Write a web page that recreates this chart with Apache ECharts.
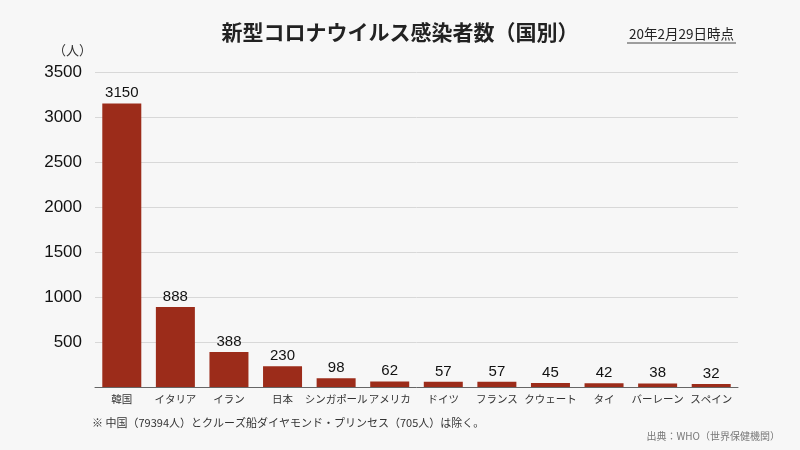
<!DOCTYPE html>
<html><head><meta charset="utf-8">
<script src="https://cdn.jsdelivr.net/npm/echarts@6/dist/echarts.min.js"></script>
<style>html,body{margin:0;padding:0;background:#f7f7f7;}#c{width:800px;height:450px;}</style>
</head><body><div id="c"></div>
<script>
const categories = ['韓国','イタリア','イラン','日本','シンガポール','アメリカ','ドイツ','フランス','クウェート','タイ','バーレーン','スペイン'];
const values = [3150, 888, 388, 230, 98, 62, 57, 57, 45, 42, 38, 32];
const yTicks = {min: 0, max: 3500, interval: 500};
const titleText = '新型コロナウイルス感染者数（国別）';
const dateText = '20年2月29日時点';
const noteText = '※ 中国（79394人）とクルーズ船ダイヤモンド・プリンセス（705人）は除く。';
const sourceText = '出典：WHO（世界保健機関）';
const unitText = '（人）';

const font = '"Noto Sans CJK JP", "Liberation Sans", sans-serif';
const chart = echarts.init(document.getElementById('c'));
chart.setOption({
  backgroundColor: '#f7f7f7',
  animation: false,
  textStyle: {fontFamily: font},
  title: [
    {text: titleText, left: 'center', top: 17, textStyle: {fontSize: 21, fontWeight: 'bold', color: '#222', fontFamily: font}},
    {text: dateText, right: 61, top: 22, textStyle: {fontSize: 13.5, fontWeight: 'normal', color: '#222', fontFamily: font}}
  ],
  graphic: [
    {type: 'line', shape: {x1: 627, y1: 43, x2: 736, y2: 43}, style: {stroke: '#444', lineWidth: 1}},
    {type: 'text', left: 53, top: 44, style: {text: unitText, fontSize: 13, fill: '#333', fontFamily: font}},
    {type: 'text', left: 92, top: 417, style: {text: noteText, fontSize: 11, fill: '#333', fontFamily: font}},
    {type: 'text', right: 20, top: 431, style: {text: sourceText, fontSize: 10, fill: '#777', fontFamily: font}}
  ],
  grid: {left: 95, right: 62, top: 72, bottom: 63},
  xAxis: {
    type: 'category', data: categories,
    axisLine: {lineStyle: {color: '#666', width: 1}},
    axisTick: {show: false},
    axisLabel: {fontSize: 10.5, color: '#333', interval: 0, margin: 7, fontFamily: font}
  },
  yAxis: {
    type: 'value', min: yTicks.min, max: yTicks.max, interval: yTicks.interval,
    axisLine: {show: false}, axisTick: {show: false},
    splitLine: {lineStyle: {color: '#d8d8d8'}},
    axisLabel: {fontSize: 17, color: '#111', margin: 13, fontFamily: '"Liberation Sans", sans-serif',
      formatter: v => v === 0 ? '' : String(v)}
  },
  series: [{
    type: 'bar', data: values, barWidth: 39,
    itemStyle: {color: '#9c2c1a'},
    label: {show: true, position: 'top', fontSize: 15, color: '#111', distance: 3, fontFamily: '"Liberation Sans", sans-serif'}
  }]
});
</script></body></html>
